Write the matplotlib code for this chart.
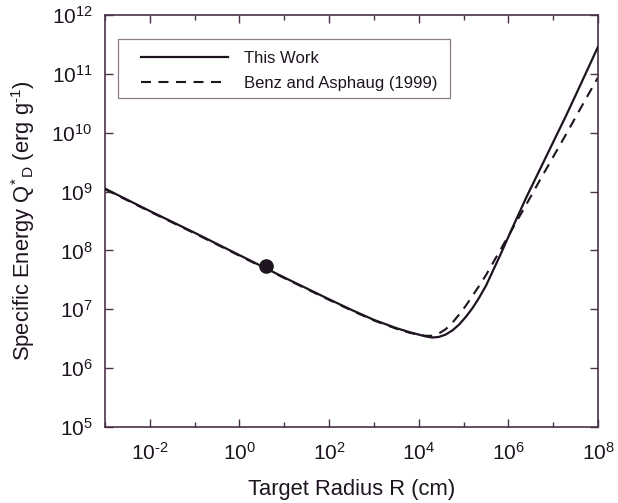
import numpy as np
import matplotlib
matplotlib.use("Agg")
import matplotlib.pyplot as plt
from matplotlib.patches import Rectangle
from matplotlib.ticker import FixedLocator, NullFormatter, FuncFormatter, LogFormatterSciNotation

plt.rcParams['font.family'] = ['Liberation Sans', 'DejaVu Sans']
plt.rcParams['mathtext.fontset'] = 'custom'
plt.rcParams['mathtext.rm'] = 'Liberation Sans'
plt.rcParams['mathtext.it'] = 'Liberation Sans:italic'
plt.rcParams['mathtext.bf'] = 'Liberation Sans:bold'
plt.rcParams['mathtext.default'] = 'regular'
plt.rcParams['axes.unicode_minus'] = False

# ---- data (log10 of radius in cm, log10 of Q*_D in erg/g) ----
log_r_this_work = [-3.0, -2.0, -1.0, 0.0, 1.0, 2.0, 2.5, 3.0, 3.5, 3.8, 4.0, 4.15, 4.3,
                   4.45, 4.6, 4.75, 4.9, 5.05, 5.2, 5.35, 5.5, 5.8, 6.1, 6.4, 6.7,
                   7.0, 7.3, 7.6, 8.0]
log_q_this_work = [9.05, 8.67, 8.30, 7.92, 7.54, 7.17, 6.99, 6.82, 6.68, 6.61, 6.57, 6.54, 6.52,
                   6.53, 6.57, 6.64, 6.74, 6.87, 7.02, 7.20, 7.40, 7.89, 8.40, 8.90, 9.37,
                   9.84, 10.31, 10.80, 11.46]

log_r_benz = [-3.0, -2.0, -1.0, 0.0, 1.0, 2.0, 2.5, 3.0, 3.5, 3.8, 4.0, 4.15, 4.3,
              4.45, 4.6, 4.75, 4.9, 5.05, 5.2, 5.35, 5.5, 5.8, 6.1, 6.4, 6.7,
              7.0, 7.3, 7.6, 8.0]
log_q_benz = [9.04, 8.66, 8.29, 7.91, 7.53, 7.16, 6.98, 6.81, 6.67, 6.60, 6.57, 6.55, 6.55,
              6.59, 6.66, 6.77, 6.91, 7.06, 7.23, 7.40, 7.58, 7.98, 8.38, 8.78, 9.19,
              9.59, 9.99, 10.40, 10.94]

dot_radius_cm = [4.0]
dot_q = [5.5e7]

legend_labels = ["This Work", "Benz and Asphaug (1999)"]
x_tick_exps = [-2, 0, 2, 4, 6, 8]
y_tick_exps = [5, 6, 7, 8, 9, 10, 11, 12]

ink = '#1e1420'
frame = '#4a3248'


def sci_label(v, pos):
    e = int(round(np.log10(v)))
    if e < 0:
        return r'$10^{\text{-}%d}$' % (-e)
    return r'$10^{%d}$' % e


def build(use_text_hyphen):
    fig = plt.figure(figsize=(6.18, 5.03), dpi=100)
    ax = fig.add_axes([105/618, 1 - 427/503, 493/618, 412/503])

    r1 = 10.0 ** np.array(log_r_this_work)
    q1 = 10.0 ** np.array(log_q_this_work)
    r2 = 10.0 ** np.array(log_r_benz)
    q2 = 10.0 ** np.array(log_q_benz)

    h2, = ax.plot(r2, q2, color=ink, lw=1.5, dashes=(4.8, 3.6), zorder=2)
    h1, = ax.plot(r1, q1, color=ink, lw=1.6, zorder=3)
    ax.plot(dot_radius_cm, dot_q, 'o', color=ink, ms=9.5, zorder=4)

    ax.set_xscale('log')
    ax.set_yscale('log')
    ax.set_xlim(1e-3, 1e8)
    ax.set_ylim(1e5, 1e12)

    fmt = FuncFormatter(sci_label) if use_text_hyphen else LogFormatterSciNotation()
    ax.xaxis.set_major_locator(FixedLocator([10.0 ** e for e in x_tick_exps]))
    ax.xaxis.set_minor_locator(FixedLocator([10.0 ** e for e in range(-3, 9, 2)]))
    ax.xaxis.set_minor_formatter(NullFormatter())
    ax.xaxis.set_major_formatter(fmt)
    ax.yaxis.set_major_locator(FixedLocator([10.0 ** e for e in y_tick_exps]))
    ax.yaxis.set_minor_locator(FixedLocator([]))
    ax.yaxis.set_major_formatter(fmt)

    ax.tick_params(which='both', direction='in', top=True, right=True, colors=frame,
                   labelcolor=ink, labelsize=15)
    ax.tick_params(which='major', length=6, width=1.0)
    ax.tick_params(which='minor', length=3.5, width=1.0)
    ax.tick_params(axis='x', which='major', pad=11)
    ax.tick_params(axis='y', which='major', pad=9)

    for s in ax.spines.values():
        s.set_color(frame)
        s.set_linewidth(1.2)

    minus = r'\text{-}' if use_text_hyphen else '-'
    ax.set_xlabel('Target Radius R (cm)', fontsize=15.8, color=ink)
    ax.set_ylabel('Specific Energy Q$^{*}$$_{\\rm D}$ (erg g$^{%s1}$)' % minus,
                  fontsize=15.8, color=ink)
    ax.xaxis.set_label_coords(0.5, -(479 - 427) / 412)
    ax.yaxis.set_label_coords(-(105 - 37) / 493, 0.5)

    # legend box
    ax.add_patch(Rectangle(((118 - 105) / 493, 1 - (98 - 15) / 412),
                           (450 - 118) / 493, (98 - 39) / 412,
                           transform=ax.transAxes, fill=True, facecolor='white',
                           edgecolor='#8a7a8a', lw=0.9, zorder=5))
    leg = ax.legend([h1, h2], legend_labels, loc='upper left',
                    bbox_to_anchor=((141 - 105) / 493, 1 - (51 - 15) / 412),
                    borderaxespad=0, borderpad=0, fontsize=12, frameon=False,
                    handlelength=5.2, handletextpad=0.95, labelspacing=0.62)
    leg.set_zorder(6)
    for t in leg.get_texts():
        t.set_color(ink)
    fig.canvas.draw()
    return fig


try:
    fig = build(True)
except Exception:
    plt.close('all')
    fig = build(False)

fig.savefig('out.png', dpi=100)
